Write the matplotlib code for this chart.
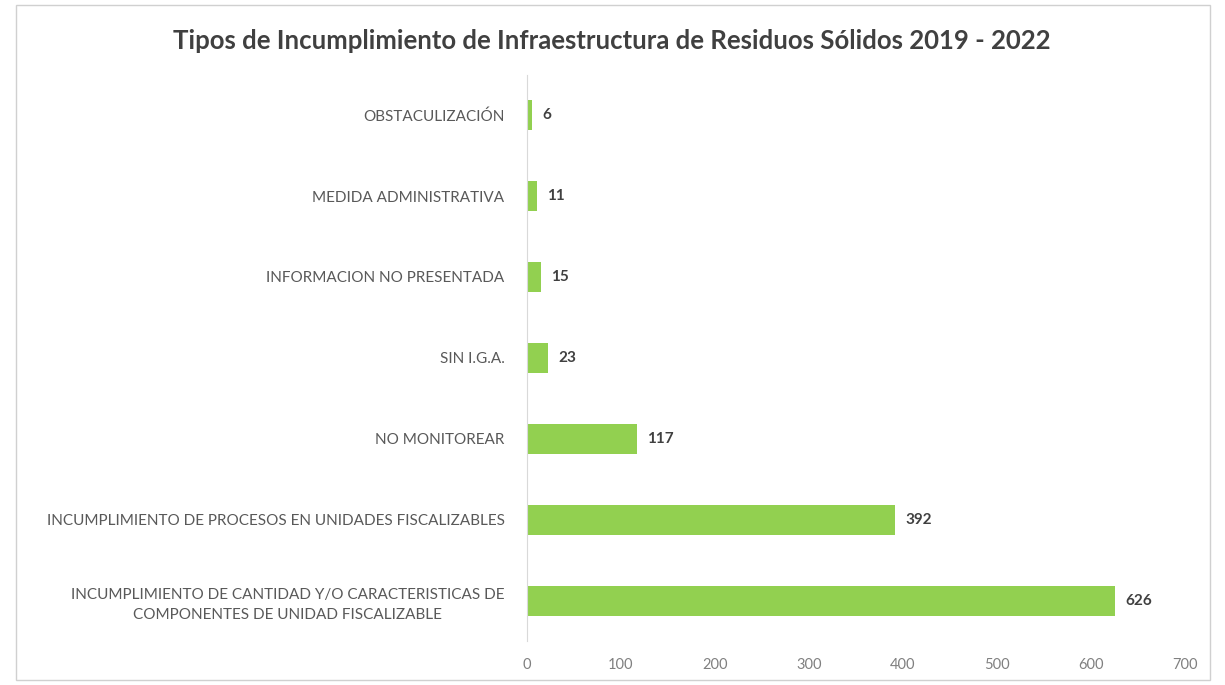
import matplotlib.pyplot as plt
from matplotlib.patches import Rectangle

# datos
categorias = [
    'INCUMPLIMIENTO DE CANTIDAD Y/O CARACTERISTICAS DE\nCOMPONENTES DE UNIDAD FISCALIZABLE',
    'INCUMPLIMIENTO DE PROCESOS EN UNIDADES FISCALIZABLES',
    'NO MONITOREAR',
    'SIN I.G.A.',
    'INFORMACION NO PRESENTADA',
    'MEDIDA ADMINISTRATIVA',
    'OBSTACULIZACIÓN',
]
valores = [626, 392, 117, 23, 15, 11, 6]
ticks_x = [0, 100, 200, 300, 400, 500, 600, 700]

plt.rcParams['font.family'] = ['Lato', 'DejaVu Sans']

fig = plt.figure(figsize=(12.25, 6.85), dpi=100)
ax = fig.add_axes([0.430, 0.064, 0.537, 0.827])

# barras
y = range(len(categorias))
ax.barh(y, valores, height=0.37, color='#92d050')

for i, v in enumerate(valores):
    ax.text(v + 11, i, str(v), va='center', ha='left', fontsize=11,
            fontweight='bold', color='#404040')

ax.set_yticks(list(y))
ax.set_yticklabels(categorias, fontsize=11, color='#595959',
                   ha='right', multialignment='center', linespacing=1.5)
ax.tick_params(axis='y', length=0, pad=16)
ax.set_xticks(ticks_x)
ax.tick_params(axis='x', length=0, labelsize=10.5, labelcolor='#808080', pad=12)
ax.set_xlim(0, 700)
ax.set_ylim(-0.5, 6.5)

for s in ['top', 'right', 'bottom']:
    ax.spines[s].set_visible(False)
ax.spines['left'].set_color('#d9d9d9')

# Título
fig.text(0.499, 0.94, 'Tipos de Incumplimiento de Infraestructura de Residuos Sólidos 2019 - 2022',
         ha='center', va='center', fontsize=18.5, fontweight='bold', color='#404040')

# borde
fig.patches.append(Rectangle((0.013, 0.007), 0.975, 0.985, transform=fig.transFigure,
                             fill=False, edgecolor='#d0d0d0', linewidth=1))

plt.savefig('out.png')
